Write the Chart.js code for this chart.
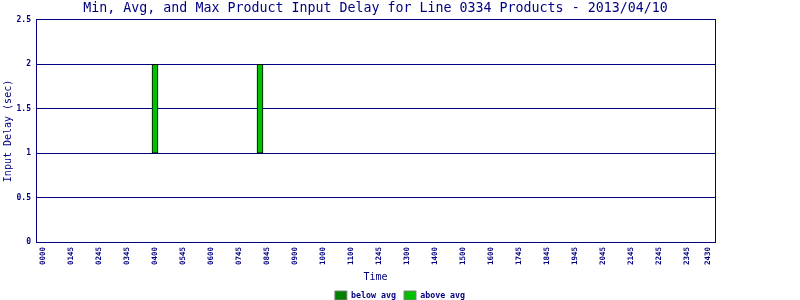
<!DOCTYPE html>
<html>
<head>
<meta charset="utf-8">
<script src="https://cdn.jsdelivr.net/npm/chart.js@4/dist/chart.umd.min.js"></script>
<style>
  html, body { margin: 0; padding: 0; background: #ffffff; }
  #wrap { width: 800px; height: 300px; }
</style>
</head>
<body>
<div id="wrap"><canvas id="c" width="800" height="300"></canvas></div>
<script>
// ---- data ----
const chartTitle = 'Min, Avg, and Max Product Input Delay for Line 0334 Products - 2013/04/10';
const tickLabels = ['0000','0145','0245','0345','0400','0545','0600','0745','0845','0900','1000','1100','1245','1300','1400','1500','1600','1745','1845','1945','2045','2145','2245','2345','2430'];
const slotCount = 96;          // time slots on the x axis
const labelEvery = 4;          // a tick label on every 4th slot, plus the final slot
const barSlots = [16, 31];     // slots that have data
const minDelay = [1, 1];
const avgDelay = [1, 1];
const maxDelay = [2, 2];
const seriesNames = ['below avg', 'above avg'];
const yMax = 2.5;
const yStep = 0.5;

// ---- build category labels (one blank slot margin on each side) ----
const categories = [''];
for (let i = 0; i < slotCount; i++) {
  let lab = '';
  if (i % labelEvery === 0 && i / labelEvery < tickLabels.length - 1) lab = tickLabels[i / labelEvery];
  if (i === slotCount - 1) lab = tickLabels[tickLabels.length - 1];
  categories.push(lab);
}
categories.push('');

const belowData = categories.map(() => null);
const aboveData = categories.map(() => null);
barSlots.forEach((s, k) => {
  belowData[s + 1] = [minDelay[k], avgDelay[k]];
  aboveData[s + 1] = [avgDelay[k], maxDelay[k]];
});

const NAVY = '#000080';
Chart.defaults.font.family = "'DejaVu Sans Mono', monospace";
Chart.defaults.color = NAVY;

const bgPlugin = {
  id: 'bg',
  beforeDraw(chart) {
    const ctx = chart.ctx;
    ctx.save();
    ctx.fillStyle = '#ffffff';
    ctx.fillRect(0, 0, chart.width, chart.height);
    ctx.restore();
  }
};

new Chart(document.getElementById('c'), {
  type: 'bar',
  data: {
    labels: categories,
    datasets: [
      { label: seriesNames[0], data: belowData, backgroundColor: '#008000', borderColor: '#000000', borderWidth: 1, borderSkipped: false, barThickness: 6 },
      { label: seriesNames[1], data: aboveData, backgroundColor: '#00c000', borderColor: '#000000', borderWidth: 1, borderSkipped: false, barThickness: 6 }
    ]
  },
  options: {
    responsive: false,
    animation: false,
    devicePixelRatio: 1,
    layout: { padding: { left: 0, right: 0, top: 0, bottom: -10 } },
    scales: {
      x: {
        stacked: true,
        offset: false,
        grid: { display: false, drawTicks: false },
        border: { display: true, color: NAVY, width: 1 },
        ticks: {
          autoSkip: false, minRotation: 90, maxRotation: 90, padding: 5,
          font: { size: 7.5, weight: 'bold' }, color: NAVY
        },
        title: { display: true, text: 'Time', font: { size: 10 }, color: NAVY, padding: { top: 0, bottom: 0 } },
        afterFit(scale) { scale.height = 41; }
      },
      y: {
        stacked: false,
        min: 0, max: yMax,
        grid: { color: NAVY, lineWidth: 1, drawTicks: false },
        border: { display: true, color: NAVY, width: 1 },
        ticks: {
          stepSize: yStep, padding: 5, font: { size: 8, weight: 'bold' }, color: NAVY,
          callback: (v) => String(Math.round(v * 10) / 10)
        },
        title: { display: true, text: 'Input Delay (sec)', font: { size: 10 }, color: NAVY, padding: { top: 2, bottom: 0 } },
        afterFit(scale) { scale.width = 36; }
      },
      y2: {
        position: 'right',
        min: 0, max: yMax,
        grid: { display: false, drawTicks: false },
        border: { display: true, color: NAVY, width: 1 },
        ticks: { display: false },
        afterFit(scale) { scale.width = 85; }
      }
    },
    plugins: {
      title: {
        display: true, text: chartTitle, fullSize: false,
        font: { size: 13.3, weight: 'normal' }, color: NAVY,
        padding: { top: 1, bottom: 3 }
      },
      legend: {
        position: 'bottom',
        labels: {
          boxWidth: 12, boxHeight: 9, padding: 8,
          font: { size: 8.3, weight: 'bold' }, color: NAVY,
          generateLabels(chart) {
            return chart.data.datasets.map((ds, i) => ({
              text: ds.label, fillStyle: ds.backgroundColor, strokeStyle: '#808080',
              lineWidth: 1, hidden: false, datasetIndex: i, fontColor: NAVY
            }));
          }
        }
      },
      tooltip: { enabled: false }
    }
  },
  plugins: [bgPlugin]
});
</script>
</body>
</html>
